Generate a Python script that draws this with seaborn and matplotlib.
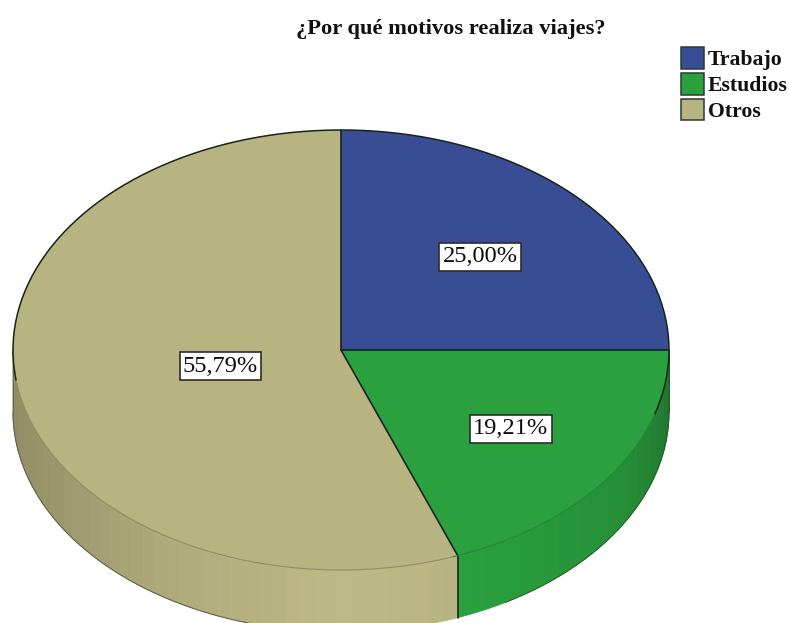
import numpy as np
import matplotlib
matplotlib.use("Agg")
import matplotlib.pyplot as plt
from matplotlib.patches import Polygon
import seaborn as sns

# Survey shares, clockwise from twelve o'clock
categories = ["Trabajo", "Estudios", "Otros"]
shares = [25.00, 19.21, 55.79]
colours = ["#394d94", "#2aa13e", "#b8b481"]
title = "¿Por qué motivos realiza viajes?"

W, H = 789, 623
CX, CY, RX, RY = 341, 350, 328, 220
DEPTH = 62 / RY
EDGE = "#16241c"
SERIF = ["Liberation Serif", "DejaVu Serif"]

sns.set_theme(style="white")
fig = plt.figure(figsize=(W / 100, H / 100), dpi=100, facecolor="white")
ax = fig.add_axes([0, 0, 1, 1])


def wall_shade(deg):
    # Brightness of the extruded rim, brightest toward the front of the disc
    return np.interp(deg, [-180, -150, -120, -90, -70, -30, 0],
                     [0.76, 0.84, 0.95, 1.03, 1.0, 0.88, 0.70])


def ellipse_arc(a, b, drop=0.0):
    t = np.radians(np.linspace(a, b, 200))
    return np.cos(t), np.sin(t) - drop


# Extruded rim: only the front half (angles -180..0) is visible
start = 90.0
for share, colour in zip(shares, colours):
    stop = start - share * 3.6
    lo, hi = max(stop, -180.0), min(start, 0.0)
    if lo < hi:
        edges = np.linspace(lo, hi, max(int((hi - lo) / 2.5), 2) + 1)
        base = np.array(matplotlib.colors.to_rgb(colour))
        for a, b in zip(edges[:-1], edges[1:]):
            arc = np.radians(np.linspace(a, b, 5))
            x, y = np.cos(arc), np.sin(arc)
            pts = np.r_[np.c_[x, y], np.c_[x[::-1], y[::-1] - DEPTH]]
            tone = tuple(np.clip(base * wall_shade((a + b) / 2), 0, 1))
            ax.add_patch(Polygon(pts, closed=True, facecolor=tone,
                                 edgecolor=tone, linewidth=0.6))
    start = stop

# Thin shadow under the left part of the rim
ax.plot(*ellipse_arc(-180, -100, DEPTH), color="#5c5d48", lw=0.7, zorder=2)
ax.plot(*ellipse_arc(-60, 0, DEPTH), color="#1f5a2a", lw=0.6, zorder=2)
ax.plot([-1, -1], [0, -DEPTH], color="#6a6a52", lw=0.7, zorder=2)
ax.plot([1, 1], [0, -DEPTH], color="#1f5a2a", lw=0.7, zorder=2)

# Vertical seam where the two front slices meet on the rim
seam = np.radians(90 - (shares[0] + shares[1]) * 3.6)
ax.plot([np.cos(seam)] * 2, [np.sin(seam), np.sin(seam) - DEPTH],
        color=EDGE, lw=1.2, zorder=3)

# Top face of the disc
wedges, _ = ax.pie(shares, colors=colours, startangle=90, counterclock=False,
                   radius=1, wedgeprops=dict(linewidth=0))
for w in wedges:
    w.set_zorder(4)

# Slice dividers and outline: crisp at the back, barely visible at the front
boundary = 90.0
for share in shares:
    t = np.radians(boundary)
    ax.plot([0, np.cos(t)], [0, np.sin(t)], color=EDGE, lw=1.2, zorder=5)
    boundary -= share * 3.6
ax.plot(*ellipse_arc(-17, 188), color=EDGE, lw=1.1, zorder=5)
ax.plot(*ellipse_arc(-172, -70), color="#8f8c66", lw=0.8, zorder=5)
ax.plot(*ellipse_arc(-70, -17), color="#23853a", lw=0.8, zorder=5)

# Stretch the unit pie into the tilted ellipse
ax.set_aspect("auto")
ax.set_xlim(-CX / RX, (W - CX) / RX)
ax.set_ylim((CY - H) / RY, CY / RY)
ax.set_axis_off()

# Percentage tags on each slice
tag_xy = [(0.424, 0.423), (0.518, -0.359), (-0.367, -0.073)]
for share, (tx, ty) in zip(shares, tag_xy):
    ax.text(tx, ty, f"{share:.2f}%".replace(".", ","), family=SERIF,
            fontsize=17.6, color="#0c0c0c", ha="center", va="center", zorder=6,
            bbox=dict(boxstyle="square,pad=0.13", facecolor="white",
                      edgecolor="#2c2c2c", linewidth=1.2))

fig.text(451 / W, 1 - 29 / H, title, family=SERIF, fontweight="bold",
         fontsize=16.2, color="#111111", ha="center", va="center")

legend = fig.legend(wedges, categories, loc="upper left",
                    bbox_to_anchor=(679 / W, 1 - 45 / H), frameon=False,
                    prop=dict(family=SERIF, weight="bold", size=15.7),
                    handlelength=1.03, handleheight=1.15, handletextpad=0.2,
                    labelspacing=0.12, borderpad=0.1, borderaxespad=0)
for text, handle in zip(legend.get_texts(), legend.legend_handles):
    text.set_color("#111111")
    handle.set_edgecolor("#2c3a34")
    handle.set_linewidth(1.1)

fig.savefig("out.png", dpi=100, facecolor="white")
